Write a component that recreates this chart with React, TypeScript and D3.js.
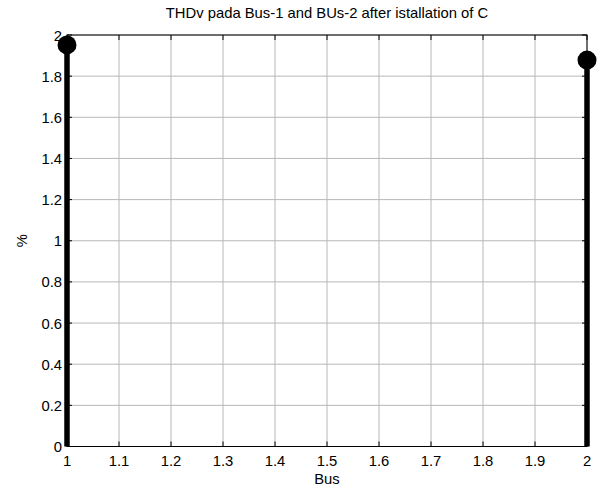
import React from "react";
import * as d3 from "d3";

const busX = [1, 2];
const thdValues = [1.952, 1.878];
const xTicks = [1, 1.1, 1.2, 1.3, 1.4, 1.5, 1.6, 1.7, 1.8, 1.9, 2];
const yTicks = [0, 0.2, 0.4, 0.6, 0.8, 1, 1.2, 1.4, 1.6, 1.8, 2];
const titleText = "THDv pada Bus-1 and BUs-2 after istallation of C";
const xLabel = "Bus";
const yLabel = "%";

export default function App() {
  const W = 608, H = 492;
  const L = 67, R = 587, T = 35, B = 446.5;
  const x = d3.scaleLinear().domain([1, 2]).range([L, R]);
  const y = d3.scaleLinear().domain([0, 2]).range([B, T]);
  const font = "Liberation Sans, Arial, sans-serif";
  const fs = 14.8;
  return (
    <svg width={W} height={H} style={{ position: "absolute", left: 0, top: 0, background: "#fff" }}>
      <rect x={0} y={0} width={W} height={H} fill="#fff" />
      {xTicks.map((t, i) => (
        <line key={"gx" + i} x1={x(t)} x2={x(t)} y1={T} y2={B} stroke="#b8b8b8" strokeWidth={1} />
      ))}
      {yTicks.map((t, i) => (
        <line key={"gy" + i} x1={L} x2={R} y1={y(t)} y2={y(t)} stroke="#b8b8b8" strokeWidth={1} />
      ))}
      {xTicks.map((t, i) => (
        <g key={"tx" + i}>
          <line x1={x(t)} x2={x(t)} y1={B} y2={B - 5} stroke="#000" />
          <line x1={x(t)} x2={x(t)} y1={T} y2={T + 5} stroke="#000" />
          <text x={x(t)} y={B + 19} textAnchor="middle" fontFamily={font} fontSize={fs}>{String(t)}</text>
        </g>
      ))}
      {yTicks.map((t, i) => (
        <g key={"ty" + i}>
          <line x1={L} x2={L + 5} y1={y(t)} y2={y(t)} stroke="#000" />
          <line x1={R} x2={R - 5} y1={y(t)} y2={y(t)} stroke="#000" />
          <text x={L - 5} y={y(t) + 5.5} textAnchor="end" fontFamily={font} fontSize={fs}>{String(t)}</text>
        </g>
      ))}
      <rect x={L} y={T} width={R - L} height={B - T} fill="none" stroke="#000" strokeWidth={1} />
      {busX.map((b, i) => (
        <g key={"s" + i}>
          <line x1={x(b)} x2={x(b)} y1={y(0)} y2={y(thdValues[i])} stroke="#000" strokeWidth={5.5} />
          <circle cx={x(b)} cy={y(thdValues[i])} r={9.5} fill="#000" />
        </g>
      ))}
      <text x={(L + R) / 2} y={18} textAnchor="middle" fontFamily={font} fontSize={fs}>{titleText}</text>
      <text x={(L + R) / 2} y={484} textAnchor="middle" fontFamily={font} fontSize={fs}>{xLabel}</text>
      <text transform={`translate(27, ${(T + B) / 2}) rotate(-90)`} textAnchor="middle" fontFamily={font} fontSize={fs}>{yLabel}</text>
    </svg>
  );
}
